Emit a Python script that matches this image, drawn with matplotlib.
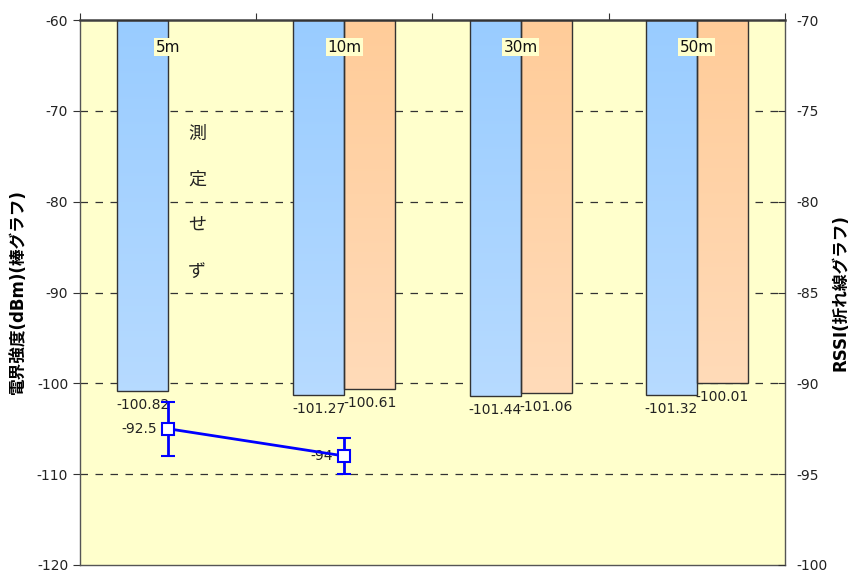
import matplotlib
matplotlib.use("Agg")
import matplotlib.pyplot as plt
import numpy as np
from matplotlib.colors import LinearSegmentedColormap

plt.rcParams['font.family'] = ['DejaVu Sans', 'Noto Sans CJK JP']

categories = ['5m', '10m', '30m', '50m']
field_blue = [-100.82, -101.27, -101.44, -101.32]
field_orange = [None, -100.61, -101.06, -100.01]
rssi_values = [-92.5, -94.0]
rssi_errors = [1.5, 1.0]
left_ticks = [-60, -70, -80, -90, -100, -110, -120]
right_ticks = [-70, -75, -80, -85, -90, -95, -100]

BG = '#FFFFCC'
fig = plt.figure(figsize=(8.53, 5.70), dpi=100)
ax = fig.add_axes([80/853, 5/570, 705/853, 545/570])
ax.set_facecolor(BG)
ax.set_xlim(-0.5, len(categories) - 0.5)
ax.set_ylim(-120, -60)

for y in [-70, -80, -90, -100, -110]:
    ax.axhline(y, color='#333333', lw=0.9, ls=(0, (6, 6)), zorder=1)

w = 0.29
blue_cmap = LinearSegmentedColormap.from_list('b', ['#C4E1FF', '#99CCFF'])
orange_cmap = LinearSegmentedColormap.from_list('o', ['#FFE2C8', '#FFCC99'])
grad = np.linspace(0, 1, 256).reshape(-1, 1)

def gbar(x, val, cmap, dx):
    bars = ax.bar(x + dx, val + 60, bottom=-60, width=w, facecolor='none',
                  edgecolor='#333333', lw=1.0, zorder=3)
    p = bars[0]
    im = ax.imshow(grad, cmap=cmap, aspect='auto', origin='lower',
                   extent=[x + dx - w/2, x + dx + w/2, -120, -60], zorder=2)
    im.set_clip_path(p)
    ax.text(x + dx, val - 0.75, f'{val:.2f}', ha='center', va='top',
            fontsize=10, color='#222222', zorder=5)

for i, c in enumerate(categories):
    gbar(i, field_blue[i], blue_cmap, -w/2)
    if field_orange[i] is not None:
        gbar(i, field_orange[i], orange_cmap, w/2)
    ax.text(i, -63, c, ha='center', va='center', fontsize=11, color='#111111',
            bbox=dict(facecolor=BG, edgecolor='none', pad=1), zorder=6)

ax.set_xlim(-0.5, len(categories) - 0.5)
ax.set_ylim(-120, -60)

ax.text(0.165, -80.1, '測\n定\nせ\nず', ha='center', va='center', fontsize=13,
        linespacing=3.0, color='#222222', zorder=5, family='Noto Sans CJK JP')

ax.set_yticks(left_ticks)
ax.set_yticklabels([str(t) for t in left_ticks])
ax.tick_params(axis='y', direction='out', length=5, labelsize=10, labelcolor='#222222', color='#333333')
ax.xaxis.set_ticks_position('top')
ax.set_xticks(np.arange(-0.5, len(categories), 1.0))
ax.set_xticklabels([])
ax.tick_params(axis='x', direction='out', length=5, color='#333333')
ax.set_ylabel('電界強度(dBm)(棒グラフ)', fontsize=12, fontweight='bold', labelpad=7)

for s in ['left', 'bottom', 'right']:
    ax.spines[s].set_color('#555555')
    ax.spines[s].set_linewidth(1.0)
ax.spines['top'].set_color('#404040')
ax.spines['top'].set_linewidth(1.8)

ax2 = ax.twinx()
ax2.set_ylim(-100, -70)
ax2.set_yticks(right_ticks)
ax2.set_yticklabels([str(t) for t in right_ticks])
ax2.tick_params(axis='y', direction='in', length=5, labelsize=10, labelcolor='#222222', color='#333333', pad=8)
ax2.set_ylabel('RSSI(折れ線グラフ)', fontsize=12, fontweight='bold', labelpad=3)
for s in ax2.spines.values():
    s.set_visible(False)

xs = np.arange(len(rssi_values))
ax2.errorbar(xs, rssi_values, yerr=rssi_errors, color='#0000FF', lw=2,
             ecolor='#0000FF', elinewidth=2, capsize=5, capthick=2,
             marker='s', markersize=9, markerfacecolor='white',
             markeredgecolor='#0000FF', markeredgewidth=1.5, zorder=5)
for x, v in zip(xs, rssi_values):
    lab = f'{v:g}'
    ax2.text(x - 0.065, v, lab, ha='right', va='center', fontsize=10, color='#222222',
             bbox=dict(facecolor=BG, edgecolor='none', pad=0.5), zorder=4)

fig.savefig('out.png', dpi=100)
